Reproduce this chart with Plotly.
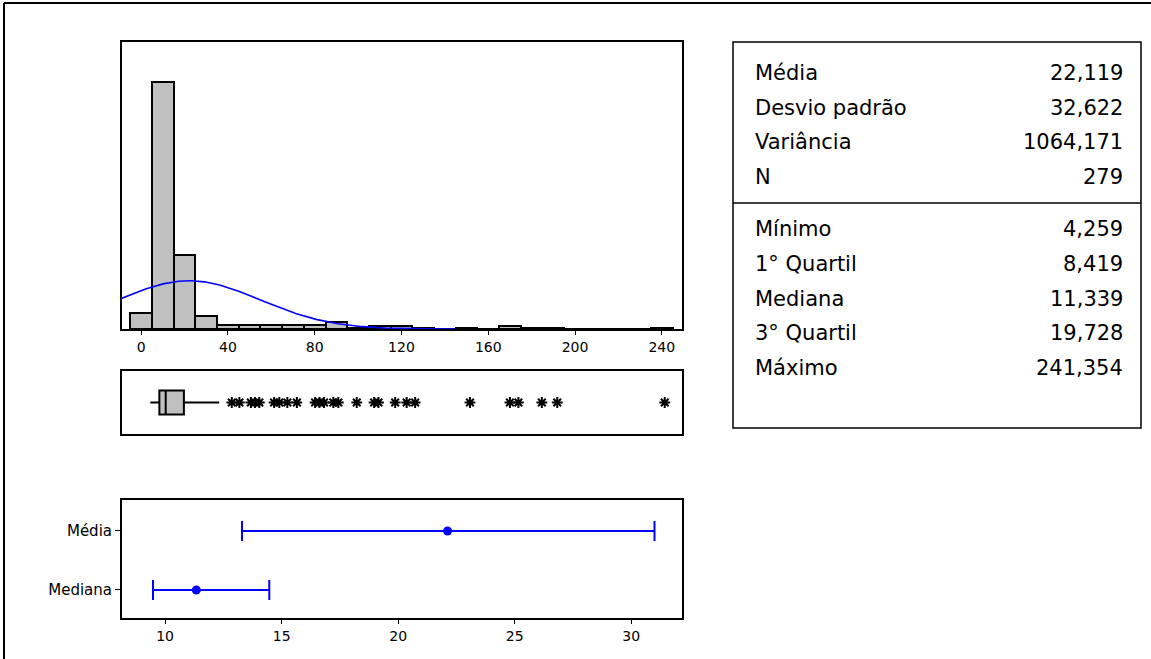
import numpy as np
import plotly.graph_objects as go

W, H = 1151, 659

# ---------------- data ----------------
bin_centers = list(range(0, 250, 10))
bin_counts = [11, 175, 52, 9, 3, 3, 3, 3, 3, 5, 1, 2, 2, 1, 0, 1, 0, 2, 1, 1, 0, 0, 0, 0, 1]

mean_val = 22.119
sd_val = 32.622
n_val = 279
bin_width = 10

box_min = 4.259
box_q1 = 8.419
box_median = 11.339
box_q3 = 19.728
box_upper_whisker = 36.0
outliers = [41.8, 45.3, 50.6, 52.5, 54.5, 61.3, 63.7, 67.4, 71.8, 80.2, 82.2, 84.3,
            88.6, 90.9, 99.4, 107.4, 109.4, 117.1, 122.4, 126.3, 151.6, 170.0, 173.9,
            184.7, 191.8, 241.354]

ci_labels = ["Mediana", "Média"]
ci_center = [11.339, 22.119]
ci_low = [9.48, 13.3]
ci_high = [14.47, 31.0]

table_top_labels = ["Média", "Desvio padrão", "Variância", "N"]
table_top_values = ["22,119", "32,622", "1064,171", "279"]
table_bot_labels = ["Mínimo", "1° Quartil", "Mediana", "3° Quartil", "Máximo"]
table_bot_values = ["4,259", "8,419", "11,339", "19,728", "241,354"]

# ---------------- helpers ----------------
def px(x):
    return x / W

def py(y):
    return 1 - y / H

FONT = "DejaVu Sans"
xdom = [px(122), px(682)]

fig = go.Figure()

# Histogram
fig.add_trace(go.Bar(
    x=bin_centers, y=bin_counts, width=bin_width,
    marker=dict(color="#c0c0c0", line=dict(color="black", width=2)),
    xaxis="x", yaxis="y", showlegend=False, hoverinfo="x+y"))

# Normal curve fitted from mean and sd
xc = np.arange(-8.8, 145.0, 0.5)
yc = n_val * bin_width / (sd_val * np.sqrt(2 * np.pi)) * np.exp(-0.5 * ((xc - mean_val) / sd_val) ** 2)
fig.add_trace(go.Scatter(x=xc, y=yc, mode="lines", line=dict(color="#0000ff", width=1.6),
                         xaxis="x", yaxis="y", showlegend=False))

# Box plot
fig.add_trace(go.Box(
    y=[0], q1=[box_q1], median=[box_median], q3=[box_q3],
    lowerfence=[box_min], upperfence=[box_upper_whisker],
    orientation="h", width=0.76, whiskerwidth=0, boxpoints=False,
    fillcolor="#c0c0c0", line=dict(color="black", width=2),
    xaxis="x2", yaxis="y2", showlegend=False))
fig.add_trace(go.Scatter(
    x=outliers, y=[0] * len(outliers), mode="markers",
    marker=dict(symbol="asterisk-open", size=9, color="black", line=dict(color="black", width=2)),
    xaxis="x2", yaxis="y2", showlegend=False))

# Confidence intervals
fig.add_trace(go.Scatter(
    x=ci_center, y=[0, 1], mode="markers",
    marker=dict(color="#0000ff", size=9),
    error_x=dict(type="data", symmetric=False,
                 array=[h - c for h, c in zip(ci_high, ci_center)],
                 arrayminus=[c - l for c, l in zip(ci_center, ci_low)],
                 color="#0000ff", thickness=2, width=10),
    xaxis="x3", yaxis="y3", showlegend=False))

axis_common = dict(showline=True, linecolor="black", linewidth=2, mirror=True,
                   showgrid=False, zeroline=False)

fig.update_layout(
    width=W, height=H,
    margin=dict(l=0, r=0, t=0, b=0),
    paper_bgcolor="white", plot_bgcolor="white",
    bargap=0,
    font=dict(family=FONT, color="black", size=14),
    xaxis=dict(domain=xdom, anchor="y", range=[-8.8, 249.3],
               tickvals=[0, 40, 80, 120, 160, 200, 240], ticks="outside", ticklen=4,
               tickcolor="black", tickfont=dict(family=FONT, size=14), **axis_common),
    yaxis=dict(domain=[py(329), py(42)], anchor="x", range=[0, 203],
               showticklabels=False, ticks="", **axis_common),
    xaxis2=dict(domain=xdom, anchor="y2", range=[-8.8, 249.3],
                showticklabels=False, ticks="", **axis_common),
    yaxis2=dict(domain=[py(434), py(371)], anchor="x2", range=[-1, 1],
                showticklabels=False, ticks="", **axis_common),
    xaxis3=dict(domain=xdom, anchor="y3", range=[8.15, 32.18],
                tickvals=[10, 15, 20, 25, 30], ticks="outside", ticklen=4,
                tickcolor="black", tickfont=dict(family=FONT, size=14), **axis_common),
    yaxis3=dict(domain=[py(618), py(500)], anchor="x3", range=[-0.475, 1.525],
                tickvals=[0, 1], ticktext=ci_labels, ticks="outside", ticklen=5,
                tickcolor="black", tickfont=dict(family=FONT, size=15), **axis_common),
)

shapes = []
# outer frame (left and top edges)
shapes.append(dict(type="line", xref="paper", yref="paper", x0=px(4), x1=px(4), y0=0, y1=py(3),
                   line=dict(color="black", width=2)))
shapes.append(dict(type="line", xref="paper", yref="paper", x0=px(4), x1=1, y0=py(3), y1=py(3),
                   line=dict(color="black", width=2)))
# table box
shapes.append(dict(type="rect", xref="paper", yref="paper", x0=px(733), x1=px(1141),
                   y0=py(428), y1=py(42), line=dict(color="black", width=1.5)))
shapes.append(dict(type="line", xref="paper", yref="paper", x0=px(733), x1=px(1141),
                   y0=py(203), y1=py(203), line=dict(color="black", width=1.5)))

annotations = []
row_y_top = [73, 107.5, 142, 176.5]
row_y_bot = [229.5, 264, 298.5, 333, 367.5]
for labs, vals, ys in [(table_top_labels, table_top_values, row_y_top),
                       (table_bot_labels, table_bot_values, row_y_bot)]:
    for lab, val, yy in zip(labs, vals, ys):
        annotations.append(dict(xref="paper", yref="paper", x=px(753), y=py(yy), text=lab,
                                showarrow=False, xanchor="left", yanchor="middle",
                                font=dict(family=FONT, size=21, color="black")))
        annotations.append(dict(xref="paper", yref="paper", x=px(1125), y=py(yy), text=val,
                                showarrow=False, xanchor="right", yanchor="middle",
                                font=dict(family=FONT, size=21, color="black")))

fig.update_layout(shapes=shapes, annotations=annotations)

fig.write_html("out.html")
